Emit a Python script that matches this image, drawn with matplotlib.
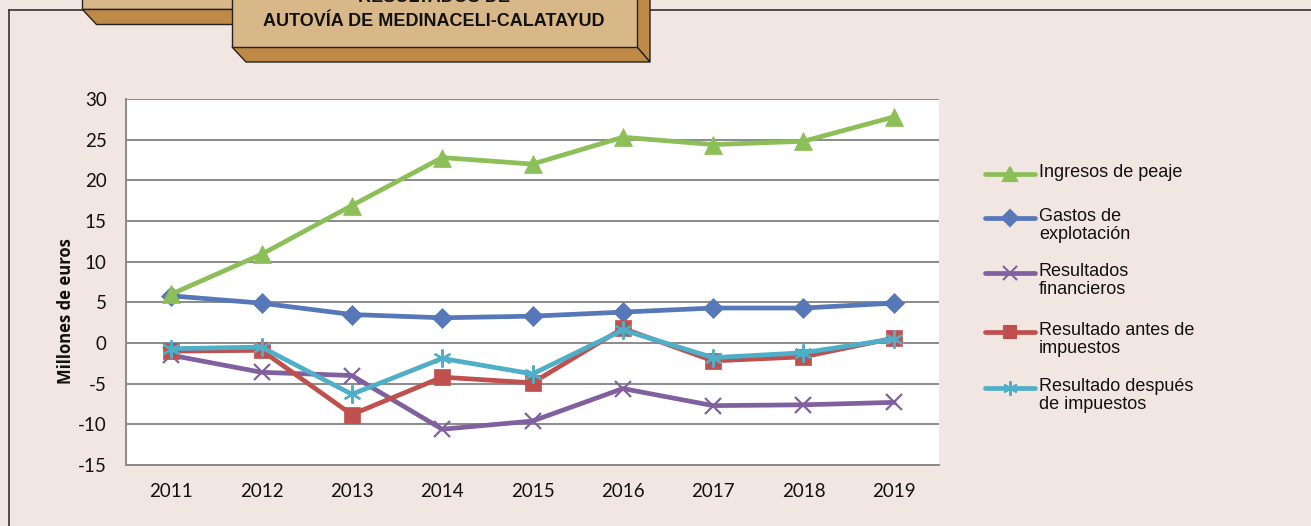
import matplotlib.pyplot as plt
from matplotlib.patches import Polygon
from matplotlib.lines import Line2D

plt.rcParams["axes.unicode_minus"] = False

years = ["2011", "2012", "2013", "2014", "2015", "2016", "2017", "2018", "2019"]
ingresos_peaje = [6.0, 10.9, 16.9, 22.8, 22.0, 25.3, 24.4, 24.8, 27.8]
gastos_explotacion = [5.8, 4.9, 3.5, 3.1, 3.3, 3.8, 4.3, 4.3, 4.9]
resultados_financieros = [-1.5, -3.6, -4.0, -10.6, -9.6, -5.6, -7.7, -7.6, -7.3]
resultado_antes = [-1.0, -0.9, -8.8, -4.2, -4.9, 1.8, -2.2, -1.7, 0.6]
resultado_despues = [-0.7, -0.5, -6.3, -1.9, -3.8, 1.6, -1.8, -1.2, 0.5]

labels = ["Ingresos de peaje", "Gastos de\nexplotación", "Resultados\nfinancieros",
          "Resultado antes de\nimpuestos", "Resultado después\nde impuestos"]

W, H = 1311, 526
BG = "#F1E6E1"

fig = plt.figure(figsize=(W / 100, H / 100), dpi=100, facecolor=BG)


def px(x, y):
    return (x / W, 1 - y / H)


def poly(points, fc):
    p = Polygon([px(x, y) for x, y in points], closed=True, transform=fig.transFigure,
                facecolor=fc, edgecolor="#222222", linewidth=1.0, zorder=5)
    fig.add_artist(p)


# outer frame
fig.add_artist(Line2D([9 / W, 9 / W], [0, 1 - 10 / H], transform=fig.transFigure,
                      color="#333333", lw=1.2))
fig.add_artist(Line2D([9 / W, 90 / W], [1 - 10 / H, 1 - 10 / H], transform=fig.transFigure,
                      color="#333333", lw=1.2))
fig.add_artist(Line2D([645 / W, 1], [1 - 10 / H, 1 - 10 / H], transform=fig.transFigure,
                      color="#333333", lw=1.2))

# title boxes with bevel
FACE = "#D8B788"
SIDE = "#BF8A48"
poly([(82, -5), (236, -5), (236, 9), (82, 9)], FACE)
poly([(82, 9), (236, 9), (236, 24), (96, 24)], SIDE)
poly([(637, -5), (650, -5), (650, 62), (637, 47)], SIDE)
poly([(232, 47), (637, 47), (650, 62), (246, 62)], SIDE)
poly([(232, -5), (637, -5), (637, 47), (232, 47)], FACE)

title_font = ["Liberation Sans", "DejaVu Sans"]
fig.text(*px(434, -3), "RESULTADOS DE", ha="center", va="center", fontsize=13,
         fontweight="bold", family=title_font, color="#111111", zorder=6)
fig.text(*px(434, 21), "AUTOVÍA DE MEDINACELI-CALATAYUD", ha="center", va="center",
         fontsize=13, fontweight="bold", family=title_font, color="#111111", zorder=6)

# chart
ax = fig.add_axes([126 / W, 1 - 465 / H, (939 - 126) / W, (465 - 99) / H])
ax.set_facecolor("white")
x = list(range(len(years)))

series = [
    (ingresos_peaje, "#8CBF58", "^", 13),
    (gastos_explotacion, "#5677B8", "D", 10.5),
    (resultados_financieros, "#8160A0", "x", 12),
    (resultado_antes, "#C0504D", "s", 11.5),
    (resultado_despues, "#4FAEC8", (6, 2, 0), 13),
]

for i, (vals, col, mk, ms) in enumerate(series):
    thin = mk == "x" or isinstance(mk, tuple)
    ax.plot(x, vals, color=col, lw=3.4, marker=mk, markersize=ms,
            markeredgewidth=1.6 if thin else 0.5,
            markeredgecolor=col, zorder=3.5 if i == 0 else 3 + i * 0.01)

ax.set_xlim(-0.5, len(years) - 0.5)
ax.set_ylim(-15, 30)
ax.set_yticks(range(-15, 31, 5))
ax.set_xticks(x)
ax.set_xticklabels(years)
ax.yaxis.grid(True, color="#8A8A8A", lw=1.4)
ax.set_axisbelow(True)
for s in ["top", "right"]:
    ax.spines[s].set_visible(False)
for s in ["left", "bottom"]:
    ax.spines[s].set_color("#8A8A8A")
    ax.spines[s].set_linewidth(1.4)
ax.tick_params(length=0, labelsize=13.5, colors="#111111")
ax.tick_params(axis="x", pad=13)
ax.tick_params(axis="y", pad=14)
for lab in ax.get_xticklabels() + ax.get_yticklabels():
    lab.set_family(["Lato", "DejaVu Sans"])

fig.text(*px(66, 311), "Millones de euros", rotation=90, ha="center", va="center",
         fontsize=12, fontweight="bold", family=["Open Sans", "DejaVu Sans"], color="#111111")

# legend
leg_y = [174, 218, 273, 332, 388]
for (vals, col, mk, ms), lab, ly in zip(series, labels, leg_y):
    fig.add_artist(Line2D([985 / W, 1035 / W], [1 - ly / H] * 2, transform=fig.transFigure,
                          color=col, lw=3.4, solid_capstyle="round"))
    fig.add_artist(Line2D([1010 / W], [1 - ly / H], transform=fig.transFigure, color=col,
                          marker=mk, markersize=ms * 0.8, markeredgecolor=col,
                          markeredgewidth=1.5))
    fig.text(1039 / W, 1 - (ly - 10) / H, lab, ha="left", va="top", fontsize=13,
             family=["Liberation Sans", "DejaVu Sans"], color="#111111", linespacing=1.1)

fig.savefig("out.png", dpi=100, facecolor=BG)
